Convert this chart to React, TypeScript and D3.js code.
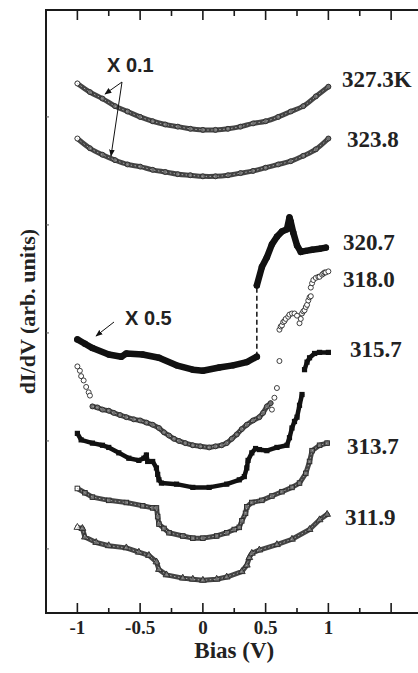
import React from "react";
import * as d3 from "d3";

type Pt = [number, number];

// bias (V) vs dI/dV (arb. units)
const t327: Pt[] = [
  [-1.0, 43.1], [-0.9, 42.3], [-0.8, 41.7], [-0.7, 41.0], [-0.6, 40.5], [-0.5, 40.0],
  [-0.4, 39.6], [-0.3, 39.3], [-0.2, 39.1], [-0.1, 38.9], [0.0, 38.8], [0.1, 38.8],
  [0.2, 38.9], [0.3, 39.1], [0.4, 39.4], [0.5, 39.6], [0.6, 40.0], [0.7, 40.5],
  [0.8, 41.0], [0.9, 41.9], [1.0, 42.8],
];

const t323: Pt[] = [
  [-1.0, 38.0], [-0.9, 37.1], [-0.8, 36.5], [-0.7, 36.0], [-0.6, 35.6], [-0.5, 35.4],
  [-0.4, 35.1], [-0.3, 34.9], [-0.2, 34.7], [-0.1, 34.6], [0.0, 34.5], [0.1, 34.5],
  [0.2, 34.6], [0.3, 34.8], [0.4, 35.0], [0.5, 35.3], [0.6, 35.6], [0.7, 35.9],
  [0.8, 36.4], [0.9, 37.0], [1.0, 38.0],
];

const t320Low: Pt[] = [
  [-1.0, 19.4], [-0.94, 19.0], [-0.88, 18.6], [-0.75, 18.0], [-0.65, 17.8], [-0.61, 18.1],
  [-0.48, 18.0], [-0.35, 17.7], [-0.21, 17.0], [-0.08, 16.6], [0.0, 16.5], [0.13, 16.8],
  [0.24, 17.0], [0.35, 17.3], [0.43, 17.8],
];
const t320High: Pt[] = [
  [0.43, 24.4], [0.47, 26.1], [0.51, 27.0], [0.55, 28.2], [0.59, 28.9], [0.63, 29.4],
  [0.67, 29.6], [0.69, 30.7], [0.7, 30.3], [0.72, 29.3], [0.75, 28.1], [0.78, 27.5],
  [0.82, 27.6], [0.87, 27.7], [0.93, 27.8], [0.98, 27.9],
];

const t318Left: Pt[] = [
  [-1.0, 16.9], [-0.98, 16.5], [-0.97, 16.0], [-0.95, 15.6], [-0.93, 15.0], [-0.91, 14.5],
  [-0.9, 14.2],
];
const t318Mid: Pt[] = [
  [-0.88, 13.2], [-0.84, 13.1], [-0.8, 12.9], [-0.75, 12.8], [-0.71, 12.6], [-0.66, 12.4],
  [-0.61, 12.2], [-0.55, 12.0], [-0.5, 11.9], [-0.45, 11.7], [-0.4, 11.5], [-0.35, 11.2],
  [-0.31, 10.8], [-0.27, 10.5], [-0.23, 10.2], [-0.19, 10.0], [-0.14, 9.8], [-0.08, 9.6],
  [-0.02, 9.5], [0.05, 9.4], [0.1, 9.5], [0.15, 9.6], [0.19, 9.8], [0.23, 10.2],
  [0.27, 10.6], [0.31, 11.1], [0.35, 11.5], [0.4, 11.9], [0.45, 12.2], [0.48, 12.6],
  [0.51, 13.2], [0.54, 13.5],
];
const t318Right: Pt[] = [
  [0.55, 12.9], [0.57, 14.0], [0.59, 14.9], [0.61, 17.4], [0.61, 20.3], [0.62, 20.6],
  [0.63, 20.7], [0.64, 21.0], [0.65, 21.1], [0.66, 21.3], [0.68, 21.5], [0.69, 21.7],
  [0.71, 21.8], [0.73, 21.8], [0.75, 21.6], [0.77, 20.9], [0.78, 21.3], [0.79, 21.8],
  [0.8, 22.0], [0.81, 22.1], [0.82, 22.4], [0.83, 22.6], [0.84, 23.0], [0.85, 23.3],
  [0.86, 23.4], [0.86, 24.2], [0.87, 24.6], [0.88, 24.9], [0.9, 25.1], [0.92, 25.2],
  [0.93, 25.2], [0.95, 25.4], [0.96, 25.5], [0.97, 25.6], [0.98, 25.6], [1.0, 25.7],
];

const t315Low: Pt[] = [
  [-1.0, 10.7], [-0.97, 10.1], [-0.88, 9.8], [-0.8, 9.6], [-0.75, 9.4], [-0.67, 8.9],
  [-0.59, 8.4], [-0.51, 8.2], [-0.47, 8.4], [-0.45, 8.7], [-0.44, 8.1], [-0.4, 8.1],
  [-0.37, 7.5], [-0.36, 6.9], [-0.35, 6.4], [-0.33, 6.1], [-0.21, 6.0], [-0.08, 5.7],
  [0.05, 5.7], [0.19, 6.0], [0.29, 6.4], [0.33, 6.7], [0.35, 7.5], [0.36, 8.2],
  [0.39, 8.9], [0.42, 9.3], [0.45, 9.2], [0.51, 9.1], [0.59, 9.4], [0.67, 9.6],
  [0.69, 10.3], [0.71, 11.2], [0.73, 11.8], [0.75, 12.2], [0.77, 13.3], [0.79, 14.3],
];
const t315High: Pt[] = [
  [0.81, 16.6], [0.83, 17.3], [0.85, 17.7], [0.89, 18.1], [0.93, 18.2], [1.0, 18.2],
];

const t313: Pt[] = [
  [-1.0, 5.6], [-0.94, 5.2], [-0.88, 4.8], [-0.75, 4.5], [-0.61, 4.3], [-0.48, 4.0],
  [-0.4, 3.8], [-0.37, 3.8], [-0.36, 3.0], [-0.35, 2.3], [-0.31, 1.9], [-0.27, 1.5],
  [-0.16, 1.2], [-0.08, 1.0], [0.0, 1.0], [0.11, 1.2], [0.19, 1.5], [0.25, 1.8],
  [0.29, 2.0], [0.31, 2.6], [0.34, 3.3], [0.35, 3.9], [0.39, 4.3], [0.47, 4.5],
  [0.55, 4.9], [0.63, 5.3], [0.71, 5.7], [0.77, 6.1], [0.82, 7.0], [0.85, 8.1],
  [0.87, 9.1], [0.93, 9.6], [0.99, 9.8],
];

const t311: Pt[] = [
  [-1.0, 2.0], [-0.96, 1.9], [-0.94, 1.1], [-0.85, 0.6], [-0.75, 0.3], [-0.61, 0.1],
  [-0.51, -0.3], [-0.43, -0.6], [-0.37, -1.2], [-0.35, -1.9], [-0.29, -2.4], [-0.16, -2.7],
  [-0.08, -2.8], [0.0, -2.9], [0.11, -2.8], [0.19, -2.6], [0.31, -2.1], [0.35, -1.5],
  [0.37, -0.8], [0.39, -0.4], [0.45, -0.1], [0.59, 0.4], [0.71, 0.9], [0.85, 1.8],
  [0.93, 2.7], [0.99, 3.2],
];

const tempLabels = ["327.3K", "323.8", "320.7", "318.0", "315.7", "313.7", "311.9"];
const xMajor = [-1, -0.5, 0, 0.5, 1, 1.5];
const xMinor = [-0.75, -0.25, 0.25, 0.75, 1.25];
const xLabels = ["-1", "-0.5", "0", "0.5", "1"];
const yTicks = [0, 10, 20, 30, 40];

const W = 418;
const H = 673;
const serif = "'Liberation Serif', 'Times New Roman', serif";
const sans = "'Liberation Sans', Arial, sans-serif";

const x = d3.scaleLinear().domain([-1.25, 1.75]).range([46, 422.5]);
const y = d3.scaleLinear().domain([-5.93, 49.9]).range([613, 10]);

type Marker = "circleOpen" | "circleFilled" | "squareFilled" | "squareOpen" | "triangleOpen";
type Seg = { pts: Pt[]; band: boolean };
type Series = { label: string; segs: Seg[]; marker: Marker; dark: boolean; smooth?: boolean; lx: number; ly: number };

const series: Series[] = [
  { label: tempLabels[0], segs: [{ pts: t327, band: true }], marker: "circleOpen", dark: false, smooth: true, lx: 342, ly: 87 },
  { label: tempLabels[1], segs: [{ pts: t323, band: true }], marker: "circleOpen", dark: false, smooth: true, lx: 347, ly: 147 },
  { label: tempLabels[2], segs: [{ pts: t320Low, band: true }, { pts: t320High, band: true }], marker: "circleFilled", dark: true, lx: 343, ly: 250 },
  { label: tempLabels[3], segs: [{ pts: t318Left, band: false }, { pts: t318Mid, band: true }, { pts: t318Right, band: false }], marker: "circleOpen", dark: false, lx: 343, ly: 287 },
  { label: tempLabels[4], segs: [{ pts: t315Low, band: true }, { pts: t315High, band: true }], marker: "squareFilled", dark: true, lx: 350, ly: 357 },
  { label: tempLabels[5], segs: [{ pts: t313, band: true }], marker: "squareOpen", dark: false, lx: 347, ly: 454 },
  { label: tempLabels[6], segs: [{ pts: t311, band: true }], marker: "triangleOpen", dark: false, lx: 345, ly: 525 },
];

const tri = d3.symbol().type(d3.symbolTriangle).size(20)() as string;

// markers sitting on a dense band are drawn in grey so the run reads as one textured stroke
function drawMarker(m: Marker, d: Pt, i: number, onBand: boolean) {
  const cx = x(d[0]);
  const cy = y(d[1]);
  const fill = onBand && i > 0 ? "#6e6e6e" : "#fff";
  switch (m) {
    case "circleOpen":
      return <circle key={i} cx={cx} cy={cy} r={2.5} fill={fill} stroke="#2a2a2a" strokeWidth={0.9} />;
    case "circleFilled":
      return <circle key={i} cx={cx} cy={cy} r={3.2} fill="#111" />;
    case "squareFilled":
      return <rect key={i} x={cx - 2.6} y={cy - 2.6} width={5.2} height={5.2} fill="#111" />;
    case "squareOpen":
      return <rect key={i} x={cx - 2.3} y={cy - 2.3} width={4.6} height={4.6} fill={fill} stroke="#2a2a2a" strokeWidth={0.9} />;
    default:
      return <path key={i} d={tri} transform={`translate(${cx},${cy})`} fill={fill} stroke="#2a2a2a" strokeWidth={0.9} />;
  }
}

export default function App() {
  const lineLin = d3.line<Pt>().x((d) => x(d[0])).y((d) => y(d[1]));
  const lineSmooth = d3
    .line<Pt>()
    .x((d) => x(d[0]))
    .y((d) => y(d[1]))
    .curve(d3.curveCatmullRom.alpha(0.5));

  const bottom = y.range()[0];
  const top = y.range()[1];
  const left = x.range()[0];
  const right = x.range()[1];

  return (
    <svg width={W} height={H} style={{ position: "absolute", left: 0, top: 0, background: "#fff" }}>
      <defs>
        <marker id="ah" viewBox="0 0 10 10" refX="9" refY="5" markerWidth="7" markerHeight="7" orient="auto-start-reverse">
          <path d="M0,1 L10,5 L0,9 z" fill="#111" />
        </marker>
      </defs>

      {/* frame */}
      <rect x={left} y={top} width={right - left} height={bottom - top} fill="none" stroke="#1a1a1a" strokeWidth={2} />

      {/* x ticks, bottom and top, pointing inward */}
      {xMajor.map((v) => (
        <g key={"M" + v}>
          <line x1={x(v)} x2={x(v)} y1={bottom} y2={bottom - 10} stroke="#1a1a1a" strokeWidth={1.6} />
          <line x1={x(v)} x2={x(v)} y1={top} y2={top + 10} stroke="#1a1a1a" strokeWidth={1.6} />
        </g>
      ))}
      {xMinor.map((v) => (
        <g key={"m" + v}>
          <line x1={x(v)} x2={x(v)} y1={bottom} y2={bottom - 5} stroke="#1a1a1a" strokeWidth={1.6} />
          <line x1={x(v)} x2={x(v)} y1={top} y2={top + 6} stroke="#1a1a1a" strokeWidth={1.6} />
        </g>
      ))}
      {yTicks.map((v) => (
        <line key={"y" + v} x1={left} x2={left + 3} y1={y(v)} y2={y(v)} stroke="#555" strokeWidth={1} />
      ))}

      {/* tick labels */}
      {xLabels.map((t, i) => (
        <text key={t} x={x(xMajor[i])} y={634} textAnchor="middle" fontFamily={serif} fontWeight="bold" fontSize={19} fill="#222">
          {t}
        </text>
      ))}
      <text x={x(0.25)} y={658} textAnchor="middle" fontFamily={serif} fontWeight="bold" fontSize={23} fill="#222">
        Bias (V)
      </text>
      <text
        transform={`translate(35,${(top + bottom) / 2}) rotate(-90)`}
        textAnchor="middle"
        fontFamily={serif}
        fontWeight="bold"
        fontSize={22}
        fill="#222"
      >
        dI/dV (arb. units)
      </text>

      {/* curves */}
      {series.map((s) => (
        <g key={s.label}>
          {s.segs.map((seg, j) =>
            seg.band ? (
              <path
                key={j}
                d={(s.smooth ? lineSmooth : lineLin)(seg.pts) ?? ""}
                fill="none"
                stroke={s.dark ? "#111" : "#444"}
                strokeWidth={s.dark ? (s.marker === "circleFilled" ? 6.5 : 4.5) : 5}
                strokeLinejoin="round"
                strokeLinecap="round"
              />
            ) : null
          )}
          {s.segs.map((seg, j) => (
            <g key={"mk" + j}>{seg.pts.map((d, i) => drawMarker(s.marker, d, j === 0 ? i : i + 1, seg.band))}</g>
          ))}
          {s.segs.map((seg, j) =>
            seg.band && !s.dark ? (
              <path
                key={"tx" + j}
                d={(s.smooth ? lineSmooth : lineLin)(seg.pts) ?? ""}
                fill="none"
                stroke="#a8a8a8"
                strokeWidth={1}
                strokeDasharray="1.5 2.5"
              />
            ) : null
          )}
          <text x={s.lx} y={s.ly} fontFamily={serif} fontWeight="bold" fontSize={23} fill="#222">
            {s.label}
          </text>
        </g>
      ))}

      {/* jump of the 320.7 curve */}
      <line
        x1={x(t320Low[t320Low.length - 1][0])}
        x2={x(t320High[0][0])}
        y1={y(t320Low[t320Low.length - 1][1])}
        y2={y(t320High[0][1])}
        stroke="#111"
        strokeWidth={1.5}
        strokeDasharray="5 3"
      />

      {/* scale-factor notes */}
      <text x={107} y={72} fontFamily={sans} fontWeight="bold" fontSize={20} fill="#222">
        X 0.1
      </text>
      <line x1={122} y1={82} x2={105} y2={94} stroke="#111" strokeWidth={1} markerEnd="url(#ah)" />
      <line x1={122} y1={82} x2={111} y2={156} stroke="#111" strokeWidth={1} markerEnd="url(#ah)" />
      <text x={125} y={325} fontFamily={sans} fontWeight="bold" fontSize={20} fill="#222">
        X 0.5
      </text>
      <line x1={114} y1={322} x2={96} y2={336} stroke="#111" strokeWidth={1} markerEnd="url(#ah)" />
    </svg>
  );
}
